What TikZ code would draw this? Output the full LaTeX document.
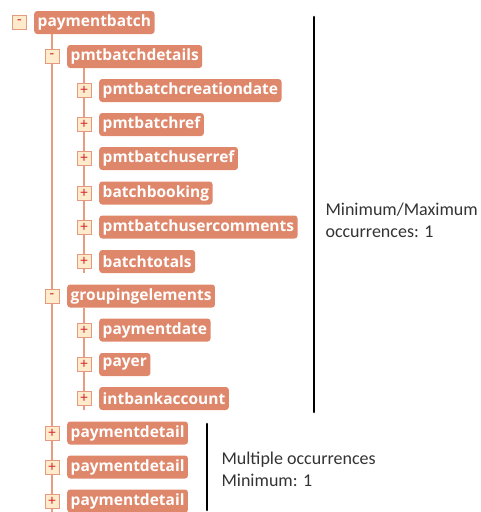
\documentclass[tikz,border=0pt]{standalone}
\usepackage{fontspec}
\setmainfont{Carlito}
\newfontfamily\boxfont{Open Sans}
\begin{document}
\definecolor{boxfill}{HTML}{DF876A}
\definecolor{treeline}{HTML}{E99C80}
\definecolor{togfill}{HTML}{FDEBCB}
\definecolor{togline}{HTML}{E59A7F}
\definecolor{signred}{HTML}{D3262B}
\begin{tikzpicture}[x=1pt,y=-1pt,
  elem/.style={anchor=west,fill=boxfill,rounded corners=3pt,text=white,
    font=\boxfont\fontsize{15.5}{16}\selectfont\bfseries,minimum height=23pt,inner xsep=3.5pt,inner ysep=0pt},
  tog/.style={draw=togline,fill=togfill,line width=0.8pt,minimum size=14pt,inner sep=0pt,
    font=\fontsize{15}{15}\selectfont,text=signred},
  tline/.style={draw=treeline,line width=1.6pt},
  bar/.style={line width=2.6pt,black,line cap=round},
  note/.style={anchor=west,align=left,font=\fontsize{18}{22}\selectfont,text=black!80}]
\useasboundingbox (0,0) rectangle (480,512);
% level 0
\node[elem] (pb) at (34,22.5) {paymentbatch};
% level 1/2
\node[elem] (pbd) at (67,56.5) {pmtbatchdetails};
\node[elem] (c1) at (99,90.5) {pmtbatchcreationdate};
\node[elem] (c2) at (99,124.5) {pmtbatchref};
\node[elem] (c3) at (99,158.5) {pmtbatchuserref};
\node[elem] (c4) at (99,193) {batchbooking};
\node[elem] (c5) at (99,227) {pmtbatchusercomments};
\node[elem] (c6) at (99,261.5) {batchtotals};
\node[elem] (ge) at (67,296) {groupingelements};
\node[elem] (g1) at (99,330) {paymentdate};
\node[elem] (g2) at (99,364.5) {payer};
\node[elem] (g3) at (99,398.5) {intbankaccount};
\node[elem] (p1) at (67,433) {paymentdetail};
\node[elem] (p2) at (67,467) {paymentdetail};
\node[elem] (p3) at (67,501) {paymentdetail};
\coordinate (bottom) at (52,512);
% tree lines (behind toggles)
\draw[tline] (pb.south -| bottom) -- (bottom);
\draw[tline] (pbd.south -| 84,0) -- (84,273);
\draw[tline] (ge.south -| 84,0) -- (84,410);
% toggles
\node[tog] (tpb) at (19.5,22) {-};
\node[tog] (tpbd) at (52,56.5) {-};
\node[tog] (tge) at (52,296) {-};
\foreach \n/\y in {c1/90.5,c2/124.5,c3/158.5,c4/193,c5/227,c6/261.5,g1/330,g2/364.5,g3/398.5}
  \node[tog] (t\n) at (84,\y) {+};
\foreach \n/\y in {p1/433,p2/467,p3/501}
  \node[tog] (t\n) at (52,\y) {+};
% annotations
\coordinate (b1t) at (314,17);
\coordinate (b1b) at (314,412);
\draw[bar] (b1t) -- (b1b);
\node[note] (n1) at (322,220) {Minimum/Maximum\\occurrences: 1};
\coordinate (b2t) at (207,424);
\coordinate (b2b) at (207,510);
\draw[bar] (b2t) -- (b2b);
\node[note] (n2) at (218,469) {Multiple occurrences\\Minimum: 1};
\end{tikzpicture}
\end{document}
